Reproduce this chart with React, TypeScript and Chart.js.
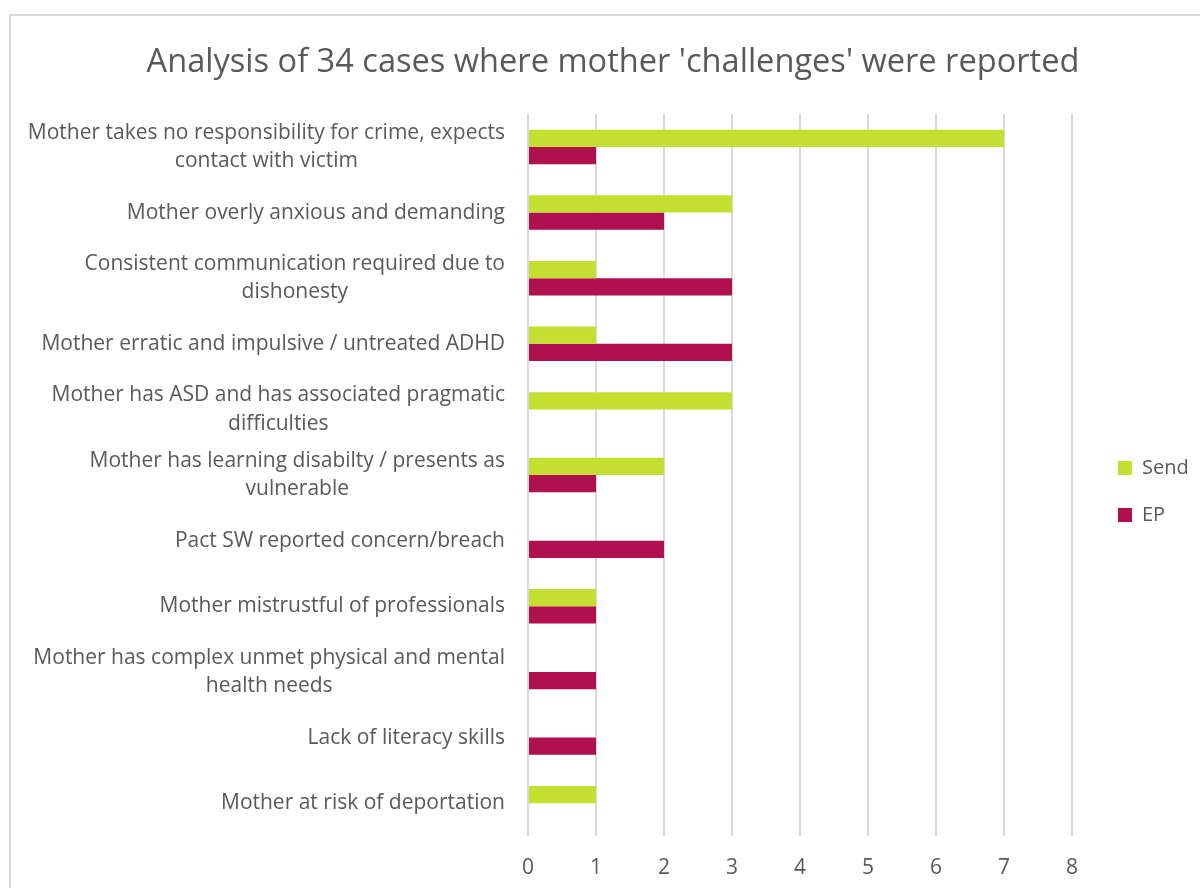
import React, { useEffect, useRef } from "react";
import { Chart, registerables } from "chart.js";

Chart.register(...registerables);

const TITLE = "Analysis of 34 cases where mother 'challenges' were reported";

const categories: string[][] = [
  ["Mother takes no responsibility for crime, expects", "contact with victim"],
  ["Mother overly anxious and demanding"],
  ["Consistent communication required due to", "dishonesty"],
  ["Mother erratic and impulsive / untreated ADHD"],
  ["Mother has ASD and has associated pragmatic", "difficulties"],
  ["Mother has learning disabilty / presents as", "vulnerable"],
  ["Pact SW reported concern/breach"],
  ["Mother mistrustful of professionals"],
  ["Mother has complex unmet physical and mental", "health needs"],
  ["Lack of literacy skills"],
  ["Mother at risk of deportation"],
];

const sendValues = [7, 3, 1, 1, 3, 2, 0, 1, 0, 0, 1];
const epValues = [1, 2, 3, 3, 0, 1, 2, 1, 1, 1, 0];

const seriesNames = ["Send", "EP"];
const xMin = 0;
const xMax = 8;

const FONT = '"Open Sans", "DejaVu Sans", sans-serif';
const TEXT = "#595959";
const GRID = "#d9d9d9";
const SEND_COLOR = "#c4df30";
const EP_COLOR = "#b00f50";
const LABEL_SIZE = 21;
const LABEL_LH = 28.5;
const LEGEND_SIZE = 20;
const LEGEND_PAD = 27;

const labelPlugin = {
  id: "wrappedLabels",
  afterLayout(chart: any) {
    const lg = chart.legend;
    if (lg && lg.columnSizes && lg.columnSizes[0]) {
      lg.left = 1118 - LEGEND_PAD;
      lg.width = 140;
      lg.right = lg.left + 140;
      const top = 468 - LEGEND_SIZE / 2 - LEGEND_PAD;
      lg.top = top;
      lg.bottom = top + lg.columnSizes[0].height + LEGEND_PAD;
    }
    const tb = chart.titleBlock;
    if (tb) {
      tb.left += 32;
      tb.right += 32;
    }
  },
  afterDraw(chart: any) {
    const ctx = chart.ctx;
    const yScale = chart.scales.y;
    ctx.save();
    ctx.font = `${LABEL_SIZE}px ${FONT}`;
    ctx.fillStyle = TEXT;
    ctx.textBaseline = "middle";
    ctx.textAlign = "center";
    const right = yScale.right - 23;
    categories.forEach((lines, i) => {
      const y = yScale.getPixelForValue(i);
      const widths = lines.map((l) => ctx.measureText(l).width);
      const maxW = Math.max(...widths);
      const cx = right - maxW / 2;
      lines.forEach((l, j) => {
        ctx.fillText(l, cx, y + (j - (lines.length - 1) / 2) * LABEL_LH);
      });
    });
    ctx.restore();
  },
};

export default function App() {
  const ref = useRef<HTMLCanvasElement>(null);
  useEffect(() => {
    if (!ref.current) return;
    const chart = new Chart(ref.current, {
      type: "bar",
      data: {
        labels: categories.map((c) => c.join(" ")),
        datasets: [
          {
            label: seriesNames[0],
            data: sendValues,
            backgroundColor: SEND_COLOR,
            categoryPercentage: 0.525,
            barPercentage: 1,
          },
          {
            label: seriesNames[1],
            data: epValues,
            backgroundColor: EP_COLOR,
            categoryPercentage: 0.525,
            barPercentage: 1,
          },
        ],
      },
      options: {
        indexAxis: "y",
        responsive: false,
        animation: false,
        layout: { autoPadding: false, padding: { left: 0, right: 38, top: 0, bottom: 12 } },
        plugins: {
          title: {
            display: true,
            text: TITLE,
            color: TEXT,
            font: { family: FONT, size: 32.6, weight: "normal" },
            padding: { top: 43, bottom: 32 },
          },
          legend: {
            position: "right",
            maxWidth: 90,
            labels: {
              boxWidth: 14,
              boxHeight: 14,
              padding: LEGEND_PAD,
              color: TEXT,
              font: { family: FONT, size: LEGEND_SIZE },
            },
          },
          tooltip: { enabled: false },
        },
        scales: {
          x: {
            min: xMin,
            max: xMax,
            ticks: {
              stepSize: 1,
              color: TEXT,
              padding: 19,
              font: { family: FONT, size: LABEL_SIZE },
            },
            grid: { color: GRID, lineWidth: 2, drawTicks: false },
            border: { display: false },
            afterFit: (axis: any) => {
              axis.height = 40;
            },
          },
          y: {
            ticks: { display: false },
            grid: { display: false },
            border: { display: false },
            afterFit: (axis: any) => {
              axis.width = 528;
            },
          },
        },
      },
      plugins: [labelPlugin],
    } as any);
    return () => chart.destroy();
  }, []);

  return (
    <div
      style={{
        position: "fixed",
        left: 0,
        top: 0,
        width: 1200,
        height: 888,
        overflow: "hidden",
        background: "#fff",
      }}
    >
      <div
        style={{
          position: "absolute",
          left: 9,
          top: 14,
          width: 1300,
          height: 1000,
          border: `2px solid ${GRID}`,
        }}
      />
      <canvas
        ref={ref}
        width={1200}
        height={888}
        style={{ position: "absolute", left: 0, top: 0, width: 1200, height: 888 }}
      />
    </div>
  );
}
